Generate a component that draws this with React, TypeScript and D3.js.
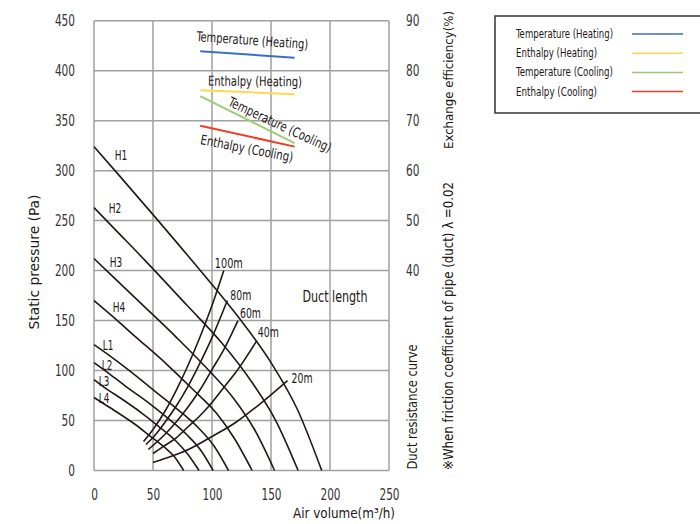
import React, { useEffect, useRef } from 'react';
import * as d3 from 'd3';

// fan curves [air volume, static pressure]
const fanNames = ['H1', 'H2', 'H3', 'H4', 'L1', 'L2', 'L3', 'L4'];
const H1 = [[0, 324], [20, 297], [50, 256], [88, 203], [120, 157], [150, 108], [172, 62], [193, 0]];
const H2 = [[0, 263], [18, 241], [45, 208], [79, 165], [108, 128], [134, 88], [154, 50], [173, 0]];
const H3 = [[0, 212], [16, 194], [40, 167], [70, 133], [95, 103], [119, 71], [136, 41], [153, 0]];
const H4 = [[0, 170], [14, 156], [35, 134], [61, 107], [83, 82], [104, 57], [119, 32], [134, 0]];
const L1 = [[0, 126], [12, 116], [30, 100], [52, 79], [71, 61], [89, 42], [102, 24], [114, 0]];
const L2 = [[0, 108], [10.5, 99], [26, 85], [46, 68], [63, 52], [78.5, 36], [90, 21], [101, 0]];
const L3 = [[0, 91], [9, 83], [23, 72], [41, 57], [55, 44], [69, 30], [79, 17], [89, 0]];
const L4 = [[0, 73], [8, 67], [20, 58], [35, 46], [47, 35], [59, 24], [68, 14], [76, 0]];
const fanCurves = [H1, H2, H3, H4, L1, L2, L3, L4];

// duct resistance curves
const ductNames = ['100m', '80m', '60m', '40m', '20m'];
const D100 = [[42, 29], [50, 41], [60, 59], [70, 81], [80, 106], [90, 134], [100, 165], [110, 200]];
const D80 = [[44, 26], [50, 33], [60, 48], [70, 65], [80, 85], [90, 108], [100, 133], [113, 170]];
const D60 = [[46, 21], [60, 36], [70, 49], [80, 64], [90, 81], [100, 101], [110, 121], [122, 150]];
const D40 = [[50, 17], [60, 25], [70, 33], [80, 44], [90, 55], [100, 68], [110, 83], [120, 98], [138, 130]];
const D20 = [[50, 8], [60, 12], [80, 21], [100, 34], [120, 48], [140, 66], [164, 90]];
const ductCurves = [D100, D80, D60, D40, D20];

// exchange efficiency [air volume, %]
const effNames = ['Temperature (Heating)', 'Enthalpy (Heating)', 'Temperature (Cooling)', 'Enthalpy (Cooling)'];
const effTempHeating = [[90, 83.9], [170, 82.6]];
const effEnthHeating = [[90, 76.1], [170, 75.3]];
const effTempCooling = [[90, 74.9], [170, 65.5]];
const effEnthCooling = [[90, 69.0], [170, 64.8]];
const effLines = [effTempHeating, effEnthHeating, effTempCooling, effEnthCooling];
const effColors = ['#3b6fc2', '#ffd84c', '#9dcc72', '#ee3f26'];

const xTicks = [0, 50, 100, 150, 200, 250];
const yTicks = [0, 50, 100, 150, 200, 250, 300, 350, 400, 450];
const effTicks = [40, 50, 60, 70, 80, 90];

const FONT = "'DejaVu Sans Condensed', 'DejaVu Sans', sans-serif";
const INK = '#231815';

const App = () => {
    const ref = useRef<HTMLDivElement>(null);

    useEffect(() => {
        const root = d3.select(ref.current);
        root.selectAll('*').remove();

        const svg = root.append('svg')
            .attr('width', 700)
            .attr('height', 524)
            .style('position', 'absolute')
            .style('left', 0)
            .style('top', 0)
            .style('background', '#fff')
            .style('font-family', FONT);

        const xScale = d3.scaleLinear().domain([0, 250]).range([94, 389]);
        const yScale = d3.scaleLinear().domain([0, 450]).range([470.5, 20.7]);
        const effScale = d3.scaleLinear().domain([40, 90]).range([yScale(200), yScale(450)]);

        // text squeezed to the width seen in the picture (condensed face)
        const label = (g, x, y, txt, size, width, rot = 0, anchor = 'middle') => g.append('text')
            .attr('transform', `translate(${x},${y}) rotate(${rot})`)
            .attr('text-anchor', anchor)
            .attr('font-size', size)
            .attr('textLength', width)
            .attr('lengthAdjust', 'spacingAndGlyphs')
            .attr('fill', INK)
            .text(txt);

        // grid
        const grid = svg.append('g').attr('class', 'grid')
            .attr('stroke', '#a0a0a0').attr('stroke-width', 1.5);
        grid.selectAll('.v').data(xTicks).enter().append('line')
            .attr('x1', d => xScale(d)).attr('x2', d => xScale(d))
            .attr('y1', yScale(450)).attr('y2', yScale(0));
        grid.selectAll('.h').data(yTicks).enter().append('line')
            .attr('x1', xScale(0)).attr('x2', xScale(250))
            .attr('y1', d => yScale(d)).attr('y2', d => yScale(d));

        // axes
        const styleAxis = (g) => {
            g.select('.domain').remove();
            g.selectAll('text')
                .attr('font-size', 16)
                .attr('font-family', FONT)
                .attr('fill', '#333')
                .attr('textLength', d => String(d).length * 6.7)
                .attr('lengthAdjust', 'spacingAndGlyphs');
        };
        svg.append('g')
            .attr('transform', 'translate(94,0)')
            .call(d3.axisLeft(yScale).tickValues(yTicks).tickSize(0).tickPadding(19))
            .call(styleAxis);
        svg.append('g')
            .attr('transform', 'translate(0,470.5)')
            .call(d3.axisBottom(xScale).tickValues(xTicks).tickSize(0).tickPadding(18))
            .call(styleAxis);
        svg.append('g')
            .attr('transform', 'translate(389,0)')
            .call(d3.axisRight(effScale).tickValues(effTicks).tickSize(0).tickPadding(17))
            .call(styleAxis);

        const line = d3.line<number[]>()
            .x(d => xScale(d[0]))
            .y(d => yScale(d[1]))
            .curve(d3.curveMonotoneX);

        const curves = svg.append('g').attr('fill', 'none').attr('stroke', INK).attr('stroke-width', 1.6);
        curves.selectAll('.fan').data(fanCurves).enter().append('path')
            .attr('d', d => line(d));
        curves.selectAll('.duct').data(ductCurves).enter().append('path')
            .attr('d', d => line(d));

        // efficiency lines
        const effLine = d3.line<number[]>()
            .x(d => xScale(d[0]))
            .y(d => effScale(d[1]));
        svg.append('g').selectAll('path').data(effLines).enter().append('path')
            .attr('d', d => effLine(d))
            .attr('fill', 'none')
            .attr('stroke', (d, i) => effColors[i])
            .attr('stroke-width', 2);

        // fan curve labels
        const fanLabelOffset = [[27, 13], [21, 5], [22, 8], [25, 11], [14, 5], [13, 7], [10, 6], [10, 5]];
        const fanLabels = svg.append('g');
        fanNames.forEach((name, i) => {
            label(fanLabels,
                xScale(fanCurves[i][0][0]) + fanLabelOffset[i][0],
                yScale(fanCurves[i][0][1]) + fanLabelOffset[i][1],
                name, 14.5, name[0] === 'H' ? 12.5 : 10.5);
        });

        // duct curve labels
        const ductLabelOffset = [[-9, -3], [3, -1], [2, -3], [1, -4], [4, 2]];
        const ductLabels = svg.append('g');
        ductNames.forEach((name, i) => {
            const end = ductCurves[i][ductCurves[i].length - 1];
            label(ductLabels,
                xScale(end[0]) + ductLabelOffset[i][0],
                yScale(end[1]) + ductLabelOffset[i][1],
                name, 14, name.length * 7, 0, 'start');
        });
        label(svg, 335, 302, 'Duct length', 15.5, 65);

        // efficiency line labels
        const effLabelPos = [[252, 45, 4], [255, 86, 0.5], [278, 129, 25], [246, 153, 11]];
        const effLabelWidth = [112, 94, 112, 94];
        const effLabels = svg.append('g');
        effNames.forEach((name, i) => {
            label(effLabels, effLabelPos[i][0], effLabelPos[i][1], name, 13.5, effLabelWidth[i], effLabelPos[i][2]);
        });

        // axis titles
        label(svg, 39, 262, 'Static pressure (Pa)', 14.5, 135, -90);
        label(svg, 395, 518, 'Air volume(m³/h)', 14.5, 102, 0, 'end');
        label(svg, 453, 80, 'Exchange efficiency(%)', 12.5, 138, -90);
        label(svg, 417, 407, 'Duct resistance curve', 14.5, 125, -90);
        label(svg, 453, 326, '※When friction coefficient of pipe (duct)  λ =0.02', 14.5, 288, -90);

        // legend
        const legend = svg.append('g');
        legend.append('rect')
            .attr('x', 495).attr('y', 16)
            .attr('width', 210).attr('height', 97)
            .attr('fill', '#fff')
            .attr('stroke', '#333')
            .attr('stroke-width', 1.5);
        const legendWidth = [97, 81, 97, 81];
        effNames.forEach((name, i) => {
            const y = 34 + i * 19.2;
            label(legend, 516, y + 4, name, 11.5, legendWidth[i], 0, 'start');
            legend.append('line')
                .attr('x1', 632).attr('x2', 683)
                .attr('y1', y).attr('y2', y)
                .attr('stroke', effColors[i])
                .attr('stroke-width', 1.5);
        });
    }, []);

    return (
        <div ref={ref}></div>
    );
}

export default App;
